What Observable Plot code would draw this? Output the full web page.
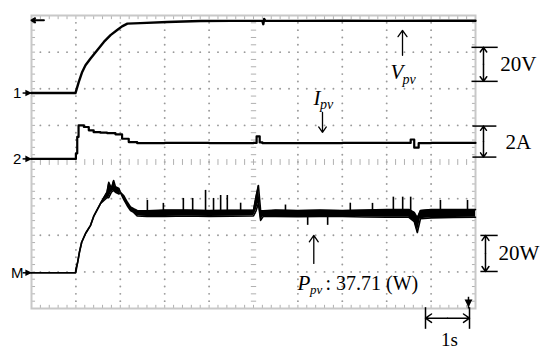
<!DOCTYPE html>
<html><head><meta charset="utf-8">
<script src="https://cdn.jsdelivr.net/npm/d3@7"></script>
<script src="https://cdn.jsdelivr.net/npm/@observablehq/plot@0.6"></script>
<style>body{margin:0;background:#fff}svg{display:block}</style>
</head><body><div id="chart"></div>
<script>
// ---- data (time in s, 1 s / division) ----
const vpvTime  = [0, 0.5, 0.99, 1.065, 1.142, 1.216, 1.33, 1.48, 1.63, 1.78, 1.93, 2.04, 2.16, 2.45, 3.06, 3.8, 4.5, 5.2, 5.22, 5.24, 5.27, 6, 7, 8, 9, 10];
const vpvVolts = [0, 0, 0, 6.1, 11.5, 15.2, 18.9, 23.4, 27.9, 31.6, 34.4, 36.4, 37.9, 38.2, 38.8, 39.3, 39.4, 39.4, 37.6, 40.4, 39.4, 39.4, 39.5, 39.4, 39.5, 39.5];

const ipvTime = [0, 0.5, 0.99, 1.0, 1.03, 1.06, 1.10, 1.18, 1.29, 1.40, 1.55, 1.70, 1.89, 2.04, 2.19, 2.38, 3, 4, 5.0, 5.07, 5.14, 5.2, 6, 7, 8.4, 8.54, 8.62, 8.72, 9, 10];
const ipvAmps = [0, 0, 0, 0.3, 1.2, 1.83, 1.83, 1.74, 1.56, 1.46, 1.43, 1.41, 1.34, 1.10, 0.92, 0.86, 0.87, 0.86, 0.87, 1.23, 0.9, 0.86, 0.86, 0.87, 0.87, 1.06, 0.61, 0.86, 0.87, 0.87];

// Ppv: trace envelope (low / high, W)
const ppvTime = [0, 0.5, 0.99, 1.0, 1.04, 1.08, 1.13, 1.22, 1.33, 1.40, 1.55, 1.70, 1.74, 1.80, 1.85, 1.89, 1.97, 2.00, 2.08, 2.16, 2.23, 2.30, 2.38, 2.6, 3.0, 3.5, 4.0, 4.5, 5.0, 5.06, 5.11, 5.16, 5.22, 5.5, 6.0, 6.5, 7.0, 7.5, 8.0, 8.5, 8.62, 8.69, 8.76, 9.0, 9.5, 10];
const ppvLow  = [0, 0, 0, 0.5, 5.8, 11.3, 16.7, 21.6, 25.9, 30.8, 37.7, 41, 41, 44, 45, 44, 43, 43.9, 40, 36.5, 34, 33, 31, 30.8, 30.8, 31, 30.8, 30.9, 31, 34, 38, 28.6, 30.8, 30.8, 30.6, 30.8, 30.7, 30.5, 30.3, 30.3, 28, 22, 29.5, 30, 30.2, 30.3];
const ppvHigh = [0, 0, 0, 2, 5.8, 11.3, 16.7, 21.6, 25.9, 30.8, 37.7, 44, 49.4, 46.1, 50.4, 47, 46, 43.9, 42, 38.5, 36, 35, 34, 33.8, 34.2, 34.2, 34, 34.1, 34.2, 42, 47.7, 34, 33.8, 34.2, 34, 34.2, 34, 34.2, 34.6, 34.6, 33, 30, 34, 34.6, 34.6, 34.5];
// Ppv: isolated spikes (W)
const spikeTime  = [2.61, 2.97, 3.42, 3.63, 3.92, 4.10, 4.26, 4.41, 4.71, 5.72, 6.22, 6.67, 7.18, 7.68, 8.15, 8.36, 8.54, 9.21, 9.82];
const spikeWatts = [39.5, 37.9, 40.6, 40.6, 45.0, 40.6, 42.2, 42.2, 38.0, 37.0, 25.9, 25.9, 38.0, 37.9, 41.3, 41.3, 41.3, 39.5, 39.5];

const channelLabels = ["1", "2", "M"];
const scaleLabels = ["20V", "2A", "20W"];
const ppvReading = ": 37.71 (W)";
const timeLabel = "1s";

// ---- display settings: channel offset (div) and units per division ----
const chV = {off: 5.883, per: 20}, chI = {off: 4.085, per: 2}, chP = {off: 0.975, per: 20};
const dv = (ch, v) => ch.off + v / ch.per;

const vpv = vpvTime.map((t, i) => ({t, y: dv(chV, vpvVolts[i])}));
const ipv = ipvTime.map((t, i) => ({t, y: dv(chI, ipvAmps[i])}));
const ppv = ppvTime.map((t, i) => ({t, lo: dv(chP, ppvLow[i]), hi: dv(chP, ppvHigh[i])}));
const spikes = spikeTime.map((t, i) => ({t, y1: dv(chP, 32.4), y2: dv(chP, spikeWatts[i])}));

// ---- graticule ----
const minorX = d3.range(0, 51).map(i => i / 5);
const minorY = d3.range(0, 41).map(i => i / 5);
const gridDots = [];
for (const xi of [1, 2, 3, 4, 6, 7, 8, 9]) for (const y of minorY) if (y > 0 && y < 8) gridDots.push({x: xi, y});
for (const yi of [1, 2, 3, 5, 6, 7]) for (const x of minorX) if (x > 0 && x < 10 && x % 1 !== 0) gridDots.push({x, y: yi});
const ticks = [];
for (const x of minorX) { ticks.push({x1: x, x2: x, y1: 8, y2: 7.9}); ticks.push({x1: x, x2: x, y1: 0, y2: 0.1}); ticks.push({x1: x, x2: x, y1: 3.92, y2: 4.08}); }
for (const y of minorY) { ticks.push({x1: 0, x2: 0.08, y1: y, y2: y}); ticks.push({x1: 10, x2: 9.92, y1: y, y2: y}); ticks.push({x1: 4.94, x2: 5.06, y1: y, y2: y}); }

const triRight = {draw(ctx, size) { const s = Math.sqrt(size) * 0.9; ctx.moveTo(s * 0.6, 0); ctx.lineTo(-s * 0.5, -s * 0.55); ctx.lineTo(-s * 0.5, s * 0.55); ctx.closePath(); }};
const triDown = {draw(ctx, size) { const s = Math.sqrt(size) * 0.9; ctx.moveTo(0, s * 0.6); ctx.lineTo(-s * 0.55, -s * 0.5); ctx.lineTo(s * 0.55, -s * 0.5); ctx.closePath(); }};

const serif = "'Liberation Serif', 'Times New Roman', serif";
const sans = "'Liberation Sans', Arial, sans-serif";

const chMarks = [
  {label: channelLabels[0], y: chV.off},
  {label: channelLabels[1], y: chI.off},
  {label: channelLabels[2], y: chP.off}
];

const brackets = [
  {x: 10.18, c1: 9.91, c2: 10.5, ya: 7.131, yb: 6.202, label: scaleLabels[0], lx: 10.56, ly: 6.667},
  {x: 10.18, c1: 9.93, c2: 10.47, ya: 4.981, yb: 4.134, label: scaleLabels[1], lx: 10.676, ly: 4.536},
  {x: 10.225, c1: 10.11, c2: 10.5, ya: 1.995, yb: 1.011, label: scaleLabels[2], lx: 10.518, ly: 1.503}
];
const bMid = brackets.map(b => ({...b, ym: (b.ya + b.yb) / 2}));

const plot = Plot.plot({
  width: 550, height: 356,
  marginLeft: 31, marginRight: 75, marginTop: 15, marginBottom: 48,
  x: {domain: [0, 10], axis: null},
  y: {domain: [0, 8], axis: null},
  style: {background: "#fff"},
  marks: [
    Plot.dot(gridDots, {x: "x", y: "y", r: 0.95, fill: "#9a9a9a"}),
    Plot.link(ticks, {x1: "x1", x2: "x2", y1: "y1", y2: "y2", stroke: "#b0b0b0", strokeWidth: 1}),
    Plot.frame({stroke: "#c8c8c8", strokeWidth: 2}),
    // traces
    Plot.line(vpv, {x: "t", y: "y", stroke: "#000", strokeWidth: 2.4}),
    Plot.line(ipv, {x: "t", y: "y", stroke: "#000", strokeWidth: 2.2, curve: "step-after"}),
    Plot.areaY(ppv, {x: "t", y1: "lo", y2: "hi", fill: "#000"}),
    Plot.line(ppv, {x: "t", y: "lo", stroke: "#000", strokeWidth: 1.6}),
    Plot.line(ppv, {x: "t", y: "hi", stroke: "#000", strokeWidth: 1.6}),
    Plot.ruleX(spikes, {x: "t", y1: "y1", y2: "y2", stroke: "#000", strokeWidth: 1.6}),
    // channel markers on the left
    Plot.link(chMarks, {x1: -0.2, x2: 0, y1: "y", y2: "y", stroke: "#000", strokeWidth: 1.5}),
    Plot.dot(chMarks, {x: -0.07, y: "y", symbol: triRight, r: 3.8, fill: "#000"}),
    Plot.text(chMarks, {x: -0.32, y: "y", text: "label", fontSize: 15, fontFamily: sans, fill: "#000"}),
    // trigger markers
    Plot.arrow([{x1: 0.28, x2: 0.0, y: 7.869}], {x1: "x1", x2: "x2", y1: "y", y2: "y", stroke: "#000", strokeWidth: 2, headLength: 8}),
    Plot.link([{x: 9.842}], {x1: "x", x2: "x", y1: () => 0.32, y2: () => 0, stroke: "#000", strokeWidth: 1.5}),
    Plot.dot([{x: 9.842, y: 0.15}], {x: "x", y: "y", symbol: triDown, r: 4.5, fill: "#000"}),
    // pointer arrows
    Plot.arrow([{x: 8.356, ya: 6.913, yb: 7.596}, {x: 6.554, ya: 5.355, yb: 4.809}, {x: 6.358, ya: 1.23, yb: 1.995}],
      {x1: "x", x2: "x", y1: "ya", y2: "yb", stroke: "#000", strokeWidth: 1.3, headLength: 9, headAngle: 70}),
    // scale brackets
    Plot.link(brackets, {x1: "c1", x2: "c2", y1: "ya", y2: "ya", stroke: "#000", strokeWidth: 1.5}),
    Plot.link(brackets, {x1: "c1", x2: "c2", y1: "yb", y2: "yb", stroke: "#000", strokeWidth: 1.5}),
    Plot.arrow(bMid, {x1: "x", x2: "x", y1: "ym", y2: "ya", stroke: "#000", strokeWidth: 1.5, headLength: 9, headAngle: 70}),
    Plot.arrow(bMid, {x1: "x", x2: "x", y1: "ym", y2: "yb", stroke: "#000", strokeWidth: 1.5, headLength: 9, headAngle: 70}),
    Plot.text(brackets, {x: "lx", y: "ly", text: "label", textAnchor: "start", fontSize: 21, fontFamily: serif, fill: "#000"}),
    // time bracket
    Plot.arrow([{a: 9.37, b: 8.874}, {a: 9.37, b: 9.865}], {x1: "a", x2: "b", y1: () => -0.265, y2: () => -0.265, stroke: "#000", strokeWidth: 1.5, headLength: 9, headAngle: 70}),
    Plot.link([{x: 8.874}, {x: 9.865}], {x1: "x", x2: "x", y1: () => 0.036, y2: () => -0.555, stroke: "#000", strokeWidth: 1.5}),
    Plot.text([timeLabel], {x: 9.414, y: -0.847, text: d => d, fontSize: 19, fontFamily: serif, fill: "#000"}),
    // quantity labels (italic with subscripts)
    Plot.text(["V"], {x: 8.086, y: 6.448, text: d => d, textAnchor: "start", fontSize: 21, fontStyle: "italic", fontFamily: serif, fill: "#000"}),
    Plot.text(["pv"], {x: 8.356, y: 6.257, text: d => d, textAnchor: "start", fontSize: 14, fontStyle: "italic", fontFamily: serif, fill: "#000"}),
    Plot.text(["I"], {x: 6.351, y: 5.738, text: d => d, textAnchor: "start", fontSize: 21, fontStyle: "italic", fontFamily: serif, fill: "#000"}),
    Plot.text(["pv"], {x: 6.50, y: 5.574, text: d => d, textAnchor: "start", fontSize: 14, fontStyle: "italic", fontFamily: serif, fill: "#000"}),
    Plot.text(["P"], {x: 5.991, y: 0.683, text: d => d, textAnchor: "start", fontSize: 21, fontStyle: "italic", fontFamily: serif, fill: "#000"}),
    Plot.text(["pv"], {x: 6.27, y: 0.519, text: d => d, textAnchor: "start", fontSize: 13, fontStyle: "italic", fontFamily: serif, fill: "#000"}),
    Plot.text([ppvReading], {x: 6.62, y: 0.683, text: d => d, textAnchor: "start", fontSize: 20, fontFamily: serif, fill: "#000"})
  ]
});
document.getElementById("chart").appendChild(plot);
</script>
</body></html>
